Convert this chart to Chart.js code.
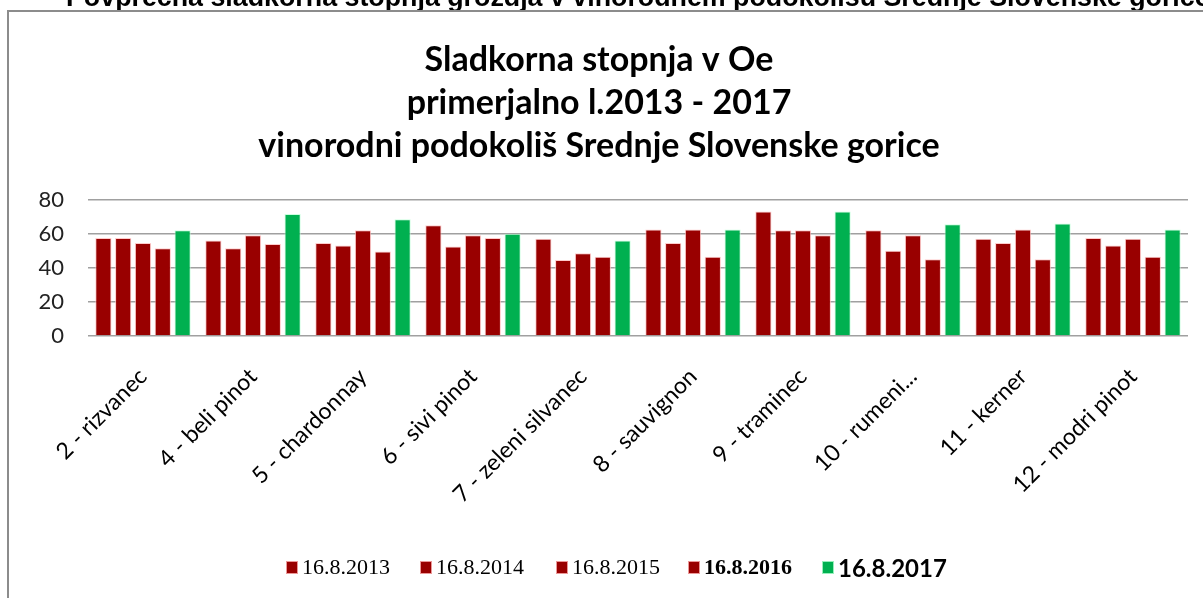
<!DOCTYPE html>
<html>
<head>
<meta charset="utf-8">
<script src="https://cdn.jsdelivr.net/npm/chart.js@4/dist/chart.umd.min.js"></script>
<style>
  html, body { margin: 0; padding: 0; background: #fff; overflow: hidden; width: 1203px; height: 598px; }
  #wrap { position: relative; width: 1203px; height: 598px; overflow: hidden; }
  #c { position: absolute; left: 0; top: 0; }
  #frame { position: absolute; left: 7px; top: 10px; width: 1220px; height: 640px; border: 2px solid #8c8c8c; box-sizing: border-box; pointer-events: none; }
  #header { position: absolute; left: 66px; top: -16.5px; font: bold 26.8px "Liberation Sans", Arial, sans-serif; line-height: 26.8px; white-space: nowrap; color: #000; }
  #legend { position: absolute; left: 0; top: 552px; width: 1203px; height: 30px; }
  .li { position: absolute; top: 0; height: 30px; display: flex; align-items: center; white-space: nowrap; }
  .sw { width: 12px; height: 13px; margin-right: 4px; box-sizing: border-box; border: 1px solid rgba(255,200,200,0.7); }
</style>
</head>
<body>
<div id="wrap">
  <canvas id="c" width="1203" height="598"></canvas>
  <div id="header">Povprečna sladkorna stopnja grozdja v vinorodnem podokolišu Srednje Slovenske gorice</div>
  <div id="frame"></div>
  <div id="legend"></div>
</div>
<script>
const categories = ["2 - rizvanec", "4 - beli pinot", "5 - chardonnay", "6 - sivi pinot", "7 - zeleni silvanec",
  "8 - sauvignon", "9 - traminec", "10 - rumeni...", "11 - kerner", "12 - modri pinot"];
const seriesNames = ["16.8.2013", "16.8.2014", "16.8.2015", "16.8.2016", "16.8.2017"];
const s2013 = [57.5, 56, 54.5, 65, 57, 62.5, 73, 62, 57, 57.5];
const s2014 = [57.5, 51.5, 53, 52.5, 44.5, 54.5, 62, 50, 54.5, 53];
const s2015 = [54.5, 59, 62, 59, 48.5, 62.5, 62, 59, 62.5, 57];
const s2016 = [51.5, 54, 49.5, 57.5, 46.5, 46.5, 59, 45, 45, 46.5];
const s2017 = [62, 71.5, 68.5, 60, 56, 62.5, 73, 65.5, 66, 62.5];
const yTicks = [0, 20, 40, 60, 80];
const titleLines = ["Sladkorna stopnja v Oe", "primerjalno l.2013 - 2017", "vinorodni podokoliš Srednje Slovenske gorice"];

const RED = "#990000", GREEN = "#00B050";
const seriesValues = [s2013, s2014, s2015, s2016, s2017];
const seriesColors = [RED, RED, RED, RED, GREEN];
const seriesBorders = ["rgba(255,190,190,0.8)", "rgba(255,190,190,0.8)", "rgba(255,190,190,0.8)", "rgba(255,190,190,0.8)", "rgba(190,255,215,0.8)"];

const calibri = '"Lato", "Open Sans", sans-serif';

new Chart(document.getElementById("c"), {
  type: "bar",
  data: {
    labels: categories,
    datasets: seriesNames.map((n, i) => ({
      label: n,
      data: seriesValues[i],
      backgroundColor: seriesColors[i],
      borderColor: seriesBorders[i],
      borderWidth: 1,
      categoryPercentage: 0.9,
      barPercentage: 0.82
    }))
  },
  options: {
    responsive: false,
    animation: false,
    layout: { padding: { left: 10, right: 15, top: 38, bottom: 62 } },
    plugins: {
      legend: { display: false },
      tooltip: { enabled: false },
      title: {
        display: true,
        text: titleLines,
        color: "#000",
        font: { family: calibri, size: 34, weight: "bold", lineHeight: 1.27 },
        padding: { top: 0, bottom: 32 }
      }
    },
    scales: {
      y: {
        min: 0, max: 80,
        afterFit: s => { s.width = 78; },
        afterBuildTicks: s => { s.ticks = yTicks.map(v => ({ value: v })); },
        ticks: { color: "#222", font: { family: calibri, size: 22 }, padding: 24 },
        grid: { color: "#a0a0a0", lineWidth: 1.5, drawTicks: false },
        border: { display: false }
      },
      x: {
        afterFit: s => { s.height = 200; },
        ticks: { color: "#000", font: { family: calibri, size: 23 }, minRotation: 45, maxRotation: 45, padding: 27, autoSkip: false },
        grid: { display: false, drawTicks: false },
        border: { display: false }
      }
    }
  }
});

// HTML legend built from series names
const legendPos = [286, 420, 556, 688, 822];
const legendFonts = [
  '22px "Liberation Serif", serif',
  '22px "Liberation Serif", serif',
  '22px "Liberation Serif", serif',
  'bold 22px "Liberation Serif", serif',
  'bold 24px ' + calibri
];
const lg = document.getElementById("legend");
seriesNames.forEach((n, i) => {
  const d = document.createElement("div");
  d.className = "li";
  d.style.left = legendPos[i] + "px";
  const sw = document.createElement("span");
  sw.className = "sw";
  sw.style.background = seriesColors[i];
  sw.style.borderColor = seriesBorders[i];
  const t = document.createElement("span");
  t.textContent = n;
  t.style.font = legendFonts[i];
  d.appendChild(sw); d.appendChild(t);
  lg.appendChild(d);
});
</script>
</body>
</html>
